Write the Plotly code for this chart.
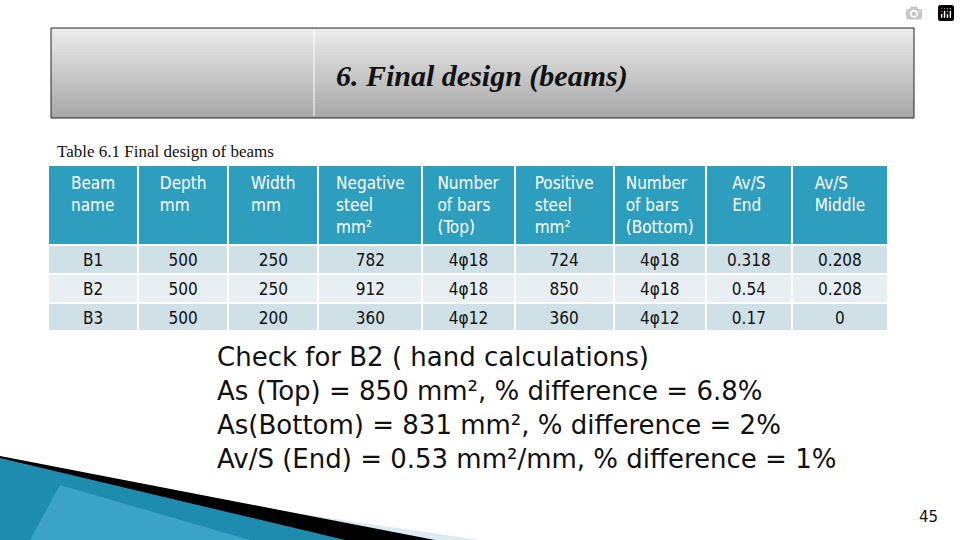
import plotly.graph_objects as go

W, H = 960, 540
headers = ["Beam<br>name", "Depth<br>mm", "Width<br>mm", "Negative<br>steel<br>mm²", "Number<br>of bars<br>(Top)",
           "Positive<br>steel<br>mm²", "Number<br>of bars<br>(Bottom)", "Av/S<br>End", "Av/S<br>Middle"]
beam = ["B1", "B2", "B3"]
depth = ["500", "500", "500"]
width = ["250", "250", "200"]
neg_steel = ["782", "912", "360"]
bars_top = ["4φ18", "4φ18", "4φ12"]
pos_steel = ["724", "850", "360"]
bars_bot = ["4φ18", "4φ18", "4φ12"]
avs_end = ["0.318", "0.54", "0.17"]
avs_mid = ["0.208", "0.208", "0"]
col_widths = [90, 90, 90, 104, 92, 99, 92, 86, 96]
notes = ["Check for B2 ( hand calculations)",
         "As (Top) = 850 mm², % difference = 6.8%",
         "As(Bottom) = 831 mm², % difference = 2%",
         "Av/S (End) = 0.53 mm²/mm, % difference = 1%"]

def px(x): return x / W
def py(y): return 1 - y / H

NARROW = "Liberation Sans Narrow, DejaVu Sans Condensed, Arial Narrow, sans-serif"

fig = go.Figure()
fig.add_trace(go.Table(
    domain=dict(x=[px(48), px(888)], y=[py(330), py(165)]),
    columnwidth=col_widths,
    header=dict(values=headers, fill_color="#2E9EBF", align="center",
                font=dict(family=NARROW, size=17, color="white"),
                line=dict(color="white", width=2), height=70),
    cells=dict(values=[beam, depth, width, neg_steel, bars_top, pos_steel, bars_bot, avs_end, avs_mid],
               fill_color=[["#CFE0E7", "#E7EFF3", "#CFE0E7"]] * 9, align="center",
               font=dict(family=NARROW, size=17, color="#111"),
               line=dict(color="white", width=2), height=29)))

shapes = []
n = 30
for i in range(n):
    y0 = 28 + 90 * i / n
    y1 = 28 + 90 * (i + 1) / n
    g = int(236 - (236 - 168) * i / (n - 1))
    shapes.append(dict(type="rect", xref="paper", yref="paper", x0=px(51), x1=px(914), y0=py(y1), y1=py(y0),
                       fillcolor=f"rgb({g},{g},{g})", line=dict(width=0), layer="below"))
shapes.append(dict(type="rect", xref="paper", yref="paper", x0=px(51), x1=px(914), y0=py(118), y1=py(28),
                   line=dict(color="#222", width=1)))
shapes.append(dict(type="line", xref="paper", yref="paper", x0=px(314), x1=px(314), y0=py(116), y1=py(30),
                   line=dict(color="white", width=1)))

def path(pts):
    return "M " + " L ".join(f"{px(x)},{py(y)}" for x, y in pts) + " Z"
shapes.append(dict(type="path", xref="paper", yref="paper", path=path([(0, 470), (480, 540), (0, 540)]),
                   fillcolor="#DCEBF1", line=dict(width=0)))
shapes.append(dict(type="path", xref="paper", yref="paper", path=path([(0, 456), (435, 540), (0, 540)]),
                   fillcolor="black", line=dict(width=0)))
shapes.append(dict(type="path", xref="paper", yref="paper", path=path([(0, 458), (345, 540), (0, 540)]),
                   fillcolor="#1E8CAE", line=dict(width=0)))
shapes.append(dict(type="path", xref="paper", yref="paper", path=path([(60, 485), (250, 540), (30, 540)]),
                   fillcolor="#4DB3D6", line=dict(width=0), opacity=0.6))

ann = [
    dict(text="<i><b>6. Final design (beams)</b></i>", x=px(482), y=py(76), yanchor="middle", showarrow=False,
         xref="paper", yref="paper", font=dict(family="Liberation Serif", size=30, color="#111")),
    dict(text="Table 6.1 Final design of beams", x=px(55), y=py(152), xanchor="left", yanchor="middle",
         showarrow=False, xref="paper", yref="paper", font=dict(family="Liberation Serif", size=17, color="#111")),
    dict(text="45", x=px(940), y=py(517), xanchor="right", yanchor="middle", showarrow=False,
         xref="paper", yref="paper", font=dict(family="DejaVu Sans", size=15, color="#111")),
]
for i, t in enumerate(notes):
    ann.append(dict(text=t, x=px(215), y=py(357 + 34 * i), xanchor="left", yanchor="middle", showarrow=False,
                    xref="paper", yref="paper", font=dict(family="DejaVu Sans", size=26, color="#111")))

fig.update_layout(width=W, height=H, margin=dict(l=0, r=0, t=0, b=0), paper_bgcolor="white",
                  plot_bgcolor="white", shapes=shapes, annotations=ann)
fig.write_html("out.html",
               post_script="document.body.style.margin='0';document.body.style.overflow='hidden';")
